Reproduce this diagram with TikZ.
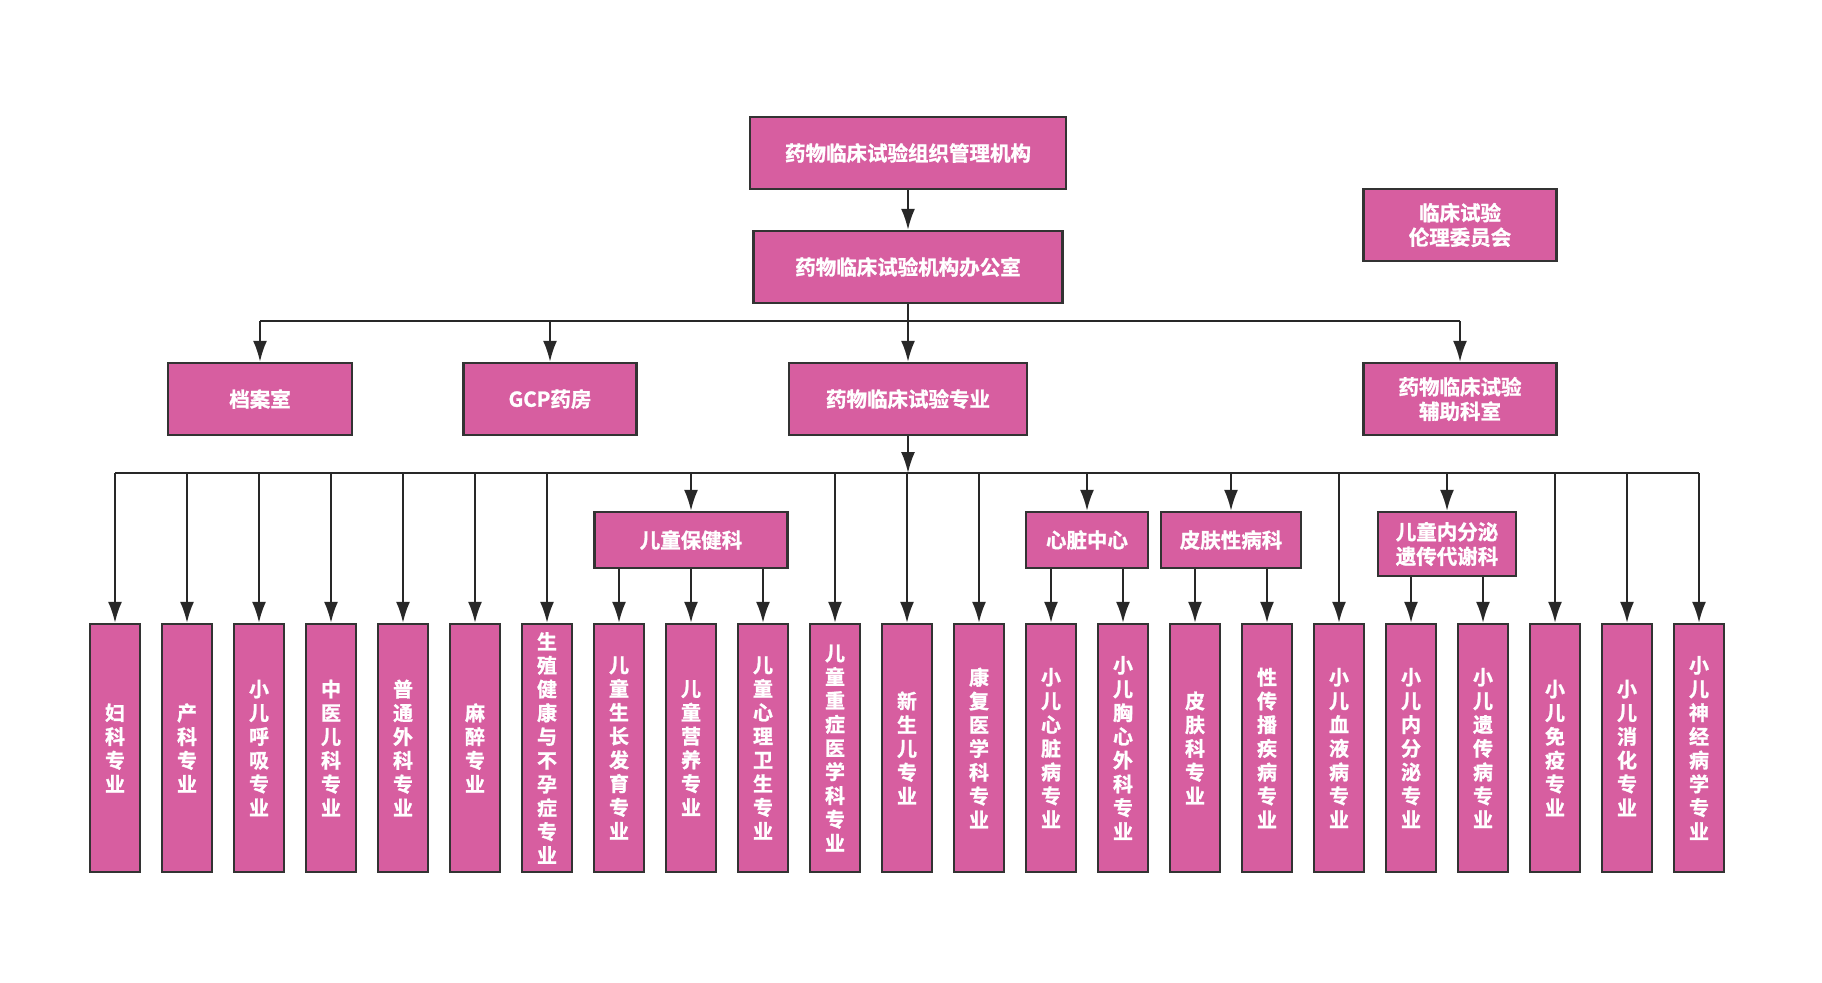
\documentclass[tikz,border=0pt]{standalone}
\usepackage{fontspec}
\setmainfont{Noto Sans CJK SC}[BoldFont={Noto Sans CJK SC Bold}, BoldFeatures={FakeBold=1.2}]
\usetikzlibrary{arrows.meta, positioning}

\definecolor{boxfill}{RGB}{215,94,160}
\definecolor{boxline}{RGB}{51,51,51}
\definecolor{wire}{RGB}{40,40,40}

\tikzset{
    box/.style={draw=boxline, fill=boxfill, line width=2.4pt, text=white, inner sep=0pt,
        align=center, font=\bfseries\fontsize{20.5pt}{24.5pt}\selectfont},
    col/.style={box, minimum width=50pt, minimum height=248pt,
        font=\bfseries\fontsize{20pt}{23.75pt}\selectfont},
    link/.style={draw=wire, line width=2pt}
}

\begin{document}
\begin{tikzpicture}[x=1pt, y=-1pt, node distance=72pt, on grid, >={Latex[length=21pt,width=14pt]},
    every edge/.style={link}]
    \useasboundingbox (0,0) rectangle (1822,982);
    % top levels
    \node[box, minimum width=316pt, minimum height=72pt] (org) at (908,153) {药物临床试验组织管理机构};
    \node[box, minimum width=309pt, minimum height=72pt] (office) at (908,267) {药物临床试验机构办公室};
    \node[box, minimum width=193pt, minimum height=72pt] (ethics) at (1460,225) {临床试验\\伦理委员会};
    \node[box, minimum width=184pt, minimum height=72pt] (archive) at (260,399) {档案室};
    \node[box, minimum width=173pt, minimum height=72pt] (gcp) at (550,399) {GCP药房};
    \node[box, minimum width=238pt, minimum height=72pt] (major) at (908,399) {药物临床试验专业};
    \node[box, minimum width=193pt, minimum height=72pt] (aux) at (1460,399) {药物临床试验\\辅助科室};
    % sub departments
    \node[box, minimum width=193pt, minimum height=56pt] (care) at (691,540) {儿童保健科};
    \node[box, minimum width=122pt, minimum height=56pt] (heart) at (1087,540) {心脏中心};
    \node[box, minimum width=140pt, minimum height=56pt] (skin) at (1231,540) {皮肤性病科};
    \node[box, minimum width=138pt, minimum height=64pt] (endo) at (1447,544) {儿童内分泌\\遗传代谢科};
    % specialties
    \node[col] (gyn) at (115,748) {妇\\科\\专\\业};
    \node[col] (obs) [right=of gyn] {产\\科\\专\\业};
    \node[col] (resp) [right=of obs] {小\\儿\\呼\\吸\\专\\业};
    \node[col] (tcm) [right=of resp] {中\\医\\儿\\科\\专\\业};
    \node[col] (surg) [right=of tcm] {普\\通\\外\\科\\专\\业};
    \node[col] (anes) [right=of surg] {麻\\醉\\专\\业};
    \node[col] (repro) [right=of anes] {生\\殖\\健\\康\\与\\不\\孕\\症\\专\\业};
    \node[col] (growth) [right=of repro] {儿\\童\\生\\长\\发\\育\\专\\业};
    \node[col] (nutri) [right=of growth] {儿\\童\\营\\养\\专\\业};
    \node[col] (psych) [right=of nutri] {儿\\童\\心\\理\\卫\\生\\专\\业};
    \node[col] (icu) [right=of psych] {儿\\童\\重\\症\\医\\学\\科\\专\\业};
    \node[col] (neo) [right=of icu] {新\\生\\儿\\专\\业};
    \node[col] (rehab) [right=of neo] {康\\复\\医\\学\\科\\专\\业};
    \node[col] (cardio) [right=of rehab] {小\\儿\\心\\脏\\病\\专\\业};
    \node[col] (thorax) [right=of cardio] {小\\儿\\胸\\心\\外\\科\\专\\业};
    \node[col] (derm) [right=of thorax] {皮\\肤\\科\\专\\业};
    \node[col] (std) [right=of derm] {性\\传\\播\\疾\\病\\专\\业};
    \node[col] (blood) [right=of std] {小\\儿\\血\\液\\病\\专\\业};
    \node[col] (endoc) [right=of blood] {小\\儿\\内\\分\\泌\\专\\业};
    \node[col] (gene) [right=of endoc] {小\\儿\\遗\\传\\病\\专\\业};
    \node[col] (immu) [right=of gene] {小\\儿\\免\\疫\\专\\业};
    \node[col] (dige) [right=of immu] {小\\儿\\消\\化\\专\\业};
    \node[col] (neuro) [right=of dige] {小\\儿\\神\\经\\病\\学\\专\\业};
    % buses
    \coordinate (bus1) at (0,321);
    \coordinate (bus2) at (0,473);
    \draw[link] (office.south) -- (office.south |- bus1);
    \draw[link] (archive.north |- bus1) -- (aux.north |- bus1);
    \draw[link] (gyn.north |- bus2) -- (neuro.north |- bus2);
    \path[->]
        (org) edge (office)
        (major) edge (major.south |- bus2);
    \path[->]
        (archive.north |- bus1) edge (archive)
        (gcp.north |- bus1) edge (gcp)
        (major.north |- bus1) edge (major)
        (aux.north |- bus1) edge (aux)
        (gyn.north |- bus2) edge (gyn)
        (obs.north |- bus2) edge (obs)
        (resp.north |- bus2) edge (resp)
        (tcm.north |- bus2) edge (tcm)
        (surg.north |- bus2) edge (surg)
        (anes.north |- bus2) edge (anes)
        (repro.north |- bus2) edge (repro)
        (care.north |- bus2) edge (care)
        (icu.north |- bus2) edge (icu)
        (neo.north |- bus2) edge (neo)
        (rehab.north |- bus2) edge (rehab)
        (heart.north |- bus2) edge (heart)
        (skin.north |- bus2) edge (skin)
        (blood.north |- bus2) edge (blood)
        (endo.north |- bus2) edge (endo)
        (immu.north |- bus2) edge (immu)
        (dige.north |- bus2) edge (dige)
        (neuro.north |- bus2) edge (neuro);
    \path[->]
        (care.south -| growth) edge (growth)
        (care) edge (nutri)
        (care.south -| psych) edge (psych)
        (heart.south -| cardio) edge (cardio)
        (heart.south -| thorax) edge (thorax)
        (skin.south -| derm) edge (derm)
        (skin.south -| std) edge (std)
        (endo.south -| endoc) edge (endoc)
        (endo.south -| gene) edge (gene);
\end{tikzpicture}
\end{document}
